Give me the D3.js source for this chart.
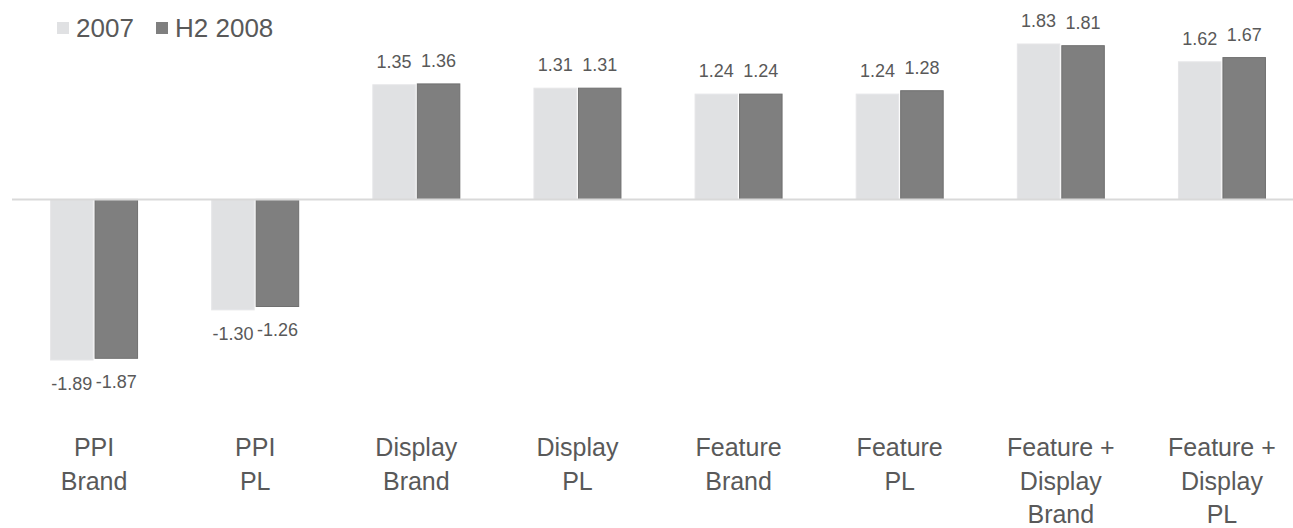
<!DOCTYPE html>
<html>
<head>
<meta charset="utf-8">
<script src="https://cdn.jsdelivr.net/npm/d3@7"></script>
<style>
  body { margin: 0; background: #fff; }
  text { font-family: "Liberation Sans Narrow", "Arial Narrow", "Liberation Sans", sans-serif; fill: #595959; }
</style>
</head>
<body>
<svg id="chart" width="1293" height="528"></svg>
<script>
const categories = [
  ["PPI", "Brand"], ["PPI", "PL"], ["Display", "Brand"], ["Display", "PL"],
  ["Feature", "Brand"], ["Feature", "PL"], ["Feature +", "Display", "Brand"], ["Feature +", "Display", "PL"]
];
const seriesNames = ["2007", "H2 2008"];
const values2007 = [-1.89, -1.30, 1.35, 1.31, 1.24, 1.24, 1.83, 1.62];
const valuesH2 = [-1.87, -1.26, 1.36, 1.31, 1.24, 1.28, 1.81, 1.67];
const colors = ["#e0e1e3", "#7f7f7f"];

const svg = d3.select("#chart");
const width = 1293;

const x0 = d3.scaleBand()
  .domain(d3.range(categories.length))
  .range([13.5, 1302.5])
  .paddingInner(0)
  .paddingOuter(0);

const x1 = d3.scaleBand()
  .domain(seriesNames)
  .range([x0.bandwidth() / 2 - 43.5, x0.bandwidth() / 2 + 43.5])
  .paddingInner(0.045);

const y = d3.scaleLinear()
  .domain([-1.89, 1.83])
  .range([360, 44]);

const rows = categories.map((c, i) => ({ i, vals: [values2007[i], valuesH2[i]] }));

const groups = svg.selectAll("g.grp")
  .data(rows)
  .enter().append("g")
  .attr("class", "grp")
  .attr("transform", d => "translate(" + x0(d.i) + ",0)");

groups.selectAll("rect")
  .data(d => d.vals.map((v, k) => ({ v, k })))
  .enter().append("rect")
  .attr("x", d => x1(seriesNames[d.k]))
  .attr("width", x1.bandwidth())
  .attr("y", d => Math.min(y(d.v), y(0)))
  .attr("height", d => Math.abs(y(d.v) - y(0)))
  .style("fill", d => colors[d.k])
  .style("stroke", d => d.k === 1 ? "#6f6f6f" : "#e6e6e8")
  .style("stroke-width", 1);

groups.selectAll("text.val")
  .data(d => d.vals.map((v, k) => ({ v, k })))
  .enter().append("text")
  .attr("class", "val")
  .attr("x", d => x1(seriesNames[d.k]) + x1.bandwidth() / 2)
  .attr("y", d => d.v >= 0 ? y(d.v) - 17 : y(d.v) + 30)
  .attr("text-anchor", "middle")
  .style("font-size", "18px")
  .text(d => d.v.toFixed(2));

// zero line
svg.append("line")
  .attr("x1", 12).attr("x2", width)
  .attr("y1", y(0)).attr("y2", y(0))
  .style("stroke", "#d9d9d9")
  .style("stroke-width", 2);

// category labels
const cat = svg.selectAll("text.cat")
  .data(categories)
  .enter().append("text")
  .attr("class", "cat")
  .attr("text-anchor", "middle")
  .style("font-size", "25px")
  .attr("transform", (d, i) => "translate(" + (x0(i) + x0.bandwidth() / 2) + ",456)");

cat.selectAll("tspan")
  .data(d => d)
  .enter().append("tspan")
  .attr("x", 0)
  .attr("y", (d, i) => i * 33.5)
  .text(d => d);

// legend
const legend = svg.selectAll("g.legend")
  .data(seriesNames)
  .enter().append("g")
  .attr("class", "legend")
  .attr("transform", (d, i) => "translate(" + [57, 156][i] + ",22)");

legend.append("rect")
  .attr("width", 12)
  .attr("height", 12)
  .style("fill", (d, i) => colors[i]);

legend.append("text")
  .attr("x", 19)
  .attr("y", 15)
  .style("font-size", "26px")
  .text(d => d);
</script>
</body>
</html>
